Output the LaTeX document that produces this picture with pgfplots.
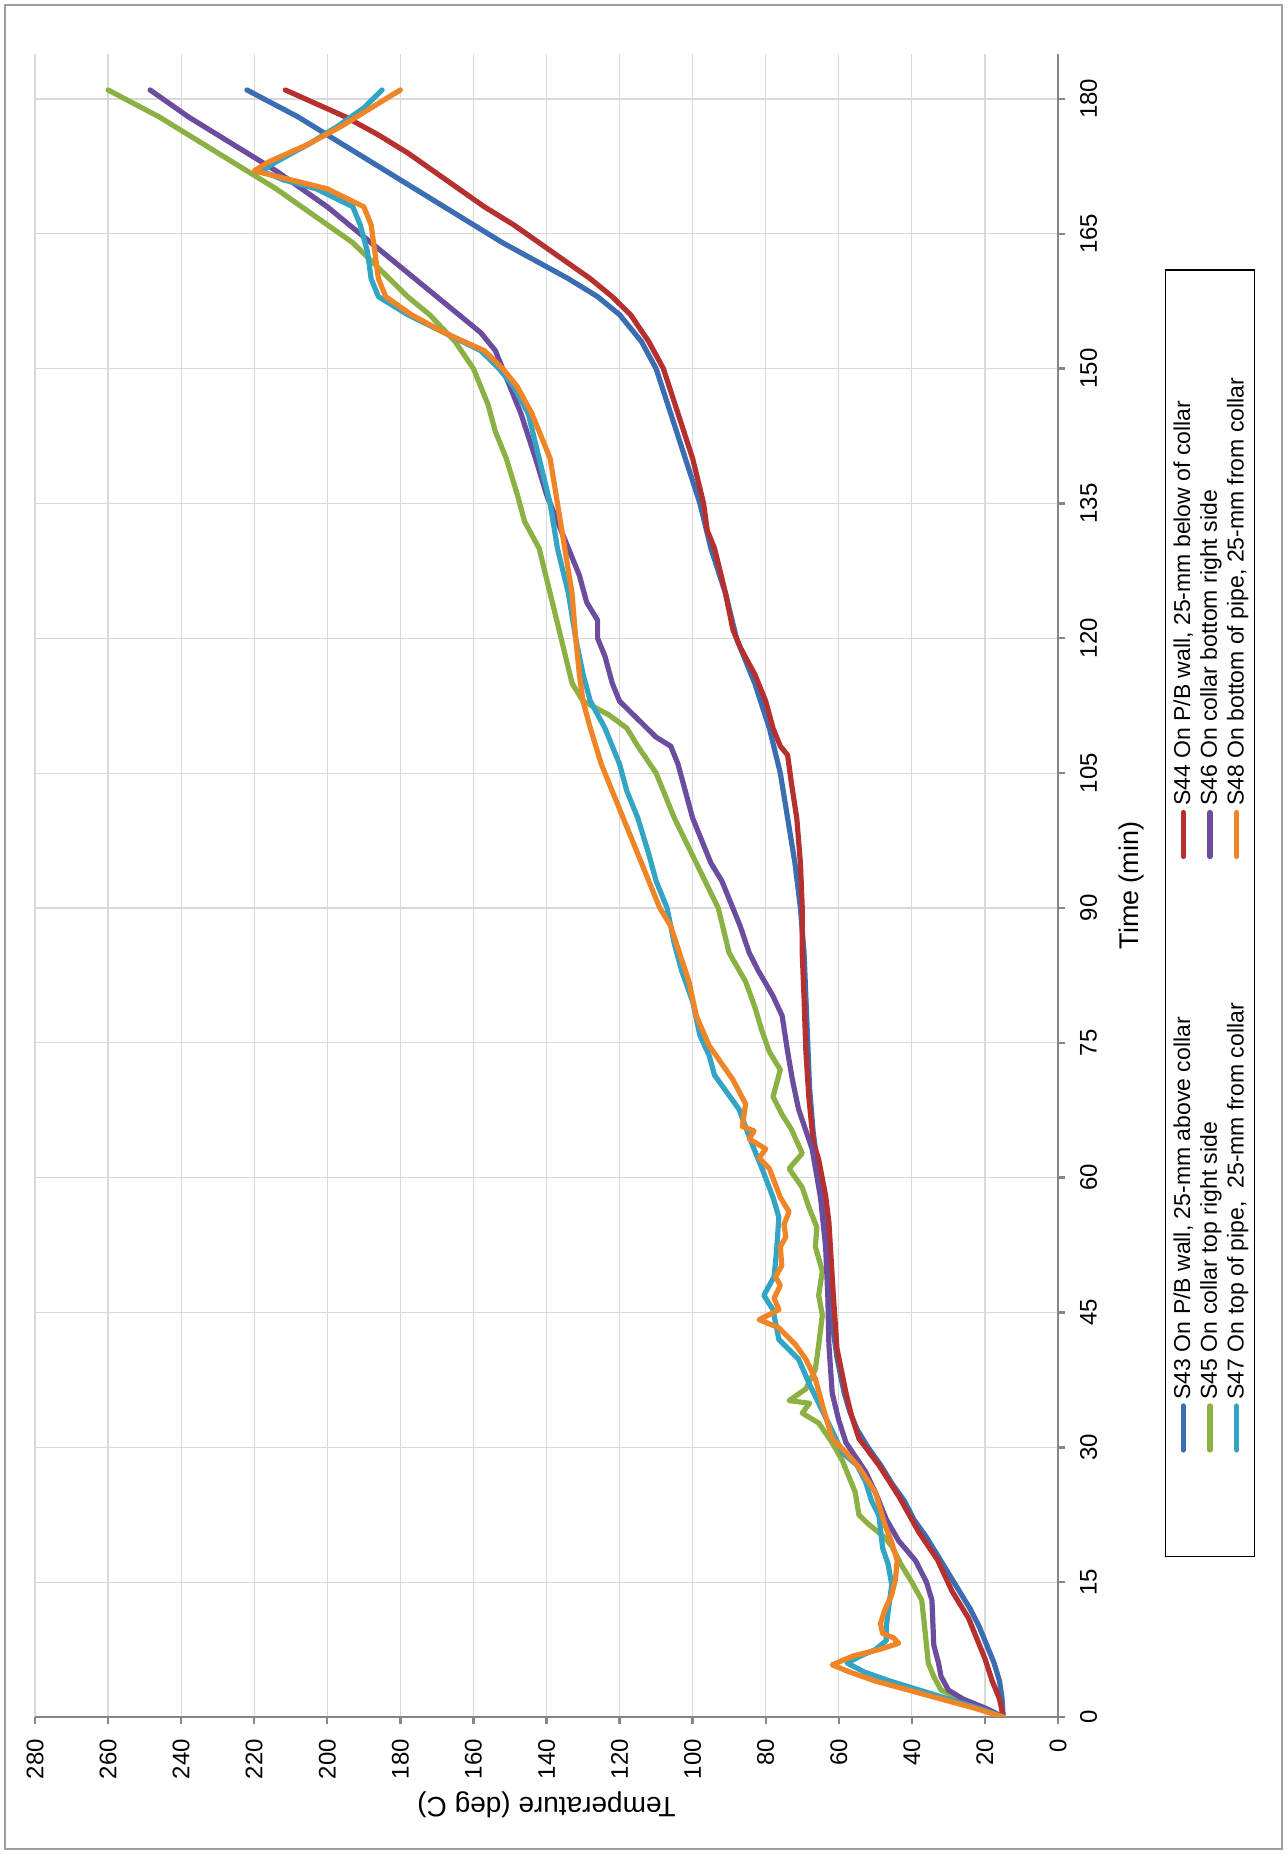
\documentclass[border=0pt]{standalone}
\usepackage{fontspec}
\setmainfont{Liberation Sans}
\usepackage{pgfplots}
\pgfplotsset{compat=1.18}

\definecolor{cS43}{RGB}{59,109,178}
\definecolor{cS44}{RGB}{181,48,46}
\definecolor{cS45}{RGB}{139,176,68}
\definecolor{cS46}{RGB}{108,76,158}
\definecolor{cS47}{RGB}{52,164,196}
\definecolor{cS48}{RGB}{240,133,40}
\definecolor{gridgray}{RGB}{217,217,217}
\definecolor{axisgray}{RGB}{134,134,134}

\begin{document}
% landscape chart, turned a quarter turn counter-clockwise on the page
\begin{tikzpicture}[rotate=90, transform shape]
\path (0,0) rectangle (927pt,643.5pt);
\draw[gray!75, line width=1.2pt] (2.5pt,2.5pt) rectangle (924.5pt,641pt);
\begin{axis}[
  at={(68.5pt,114.5pt)}, anchor=south west,
  scale only axis, width=831.5pt, height=511.5pt,
  xmin=0, xmax=185, ymin=0, ymax=280,
  xtick={0,15,...,180}, ytick={0,20,...,280},
  axis x line*=bottom, axis y line*=left,
  axis line style={axisgray, line width=1.2pt},
  tick style={axisgray, line width=1.2pt},
  tick align=outside, major tick length=3.5pt,
  grid=major, major grid style={gridgray, line width=0.6pt},
  /pgf/number format/assume math mode=true,
  ticklabel style={font=\fontsize{12}{14}\selectfont},
  xticklabel style={yshift=-4pt},
  yticklabel style={xshift=-4pt},
  xlabel={Time (min)},
  ylabel={Temperature (deg C)},
  every axis x label/.style={at={(axis description cs:0.5,-0.0723)}, anchor=center,
    font=\fontsize{13.5}{16}\selectfont},
  every axis y label/.style={at={(axis description cs:-0.0529,0.5)}, anchor=center,
    rotate=90, font=\fontsize{14}{16}\selectfont},
  every axis plot/.append style={line width=2.6pt, line join=round, line cap=round},
  legend columns=2,
  legend cell align=left,
  legend image code/.code={\draw[#1, line cap=round] (0pt,0pt) -- (22pt,0pt);},
  legend style={at={(axis description cs:0.4834,-0.1486)}, anchor=center,
    draw=black, line width=0.9pt, inner xsep=52pt, inner ysep=2pt,
    font=\fontsize{11.5}{13}\selectfont, row sep=-0.5pt,
    /tikz/every even column/.append style={column sep=70pt}},
]
% S43
\addplot[cS43] coordinates {
(0,15)(2,15.3)(4,16)(6,17.5)(8,19.5)(10,21.5)(12,24)(14,27)(16,30)(18,33)(20,36)
(22,39.5)(24,42)(26,45.5)(28,48.5)(30,52)(32,55)(34,57)(36,58.5)(38,59.5)(40,60.5)
(43,61.5)(46,62)(50,62.5)(55,63.5)(58,64)(62,66)(65,67)(70,68)(75,68.5)(80,69)
(85,69.5)(90,70.5)(95,72)(100,74)(105,76)(110,79)(115,83)(120,88)(125,91)(130,95)
(135,98)(140,102)(145,106)(150,110)(153,114)(156,120)(158,126)(160,134)(162,143)
(164,152)(166,160)(168,168)(170,176)(172,184)(174,192)(176,200)(178,208)(181,222)};
\addlegendentry{S43 On P/B wall, 25-mm above collar}
% S44
\addplot[cS44] coordinates {
(0,15)(2,16)(4,18)(6.5,20)(9,22.5)(11,24.5)(14,29)(17.5,33)(20.5,38)(24.5,43.5)
(28,49)(31,54.5)(33.5,56.5)(36,58)(41,60.5)(47,61.5)(55,62.7)(58,63.6)(62,65.5)
(64,67)(69,68.2)(74,69)(80,69.5)(85,70)(90,70)(95,70.5)(100,71.5)(104,73)(107,74)
(108,76)(110,78)(113,80)(116,83)(119,87)(121,89)(125,91)(130,94)(132,96)(135,97)
(140,100)(145,104)(150,108)(153,112)(156,117)(158,122)(160,128)(162,135)(164,142)
(166,149)(168,157)(170,164)(172,171)(174,178)(176,186)(178,195)(181,211.5)};
\addlegendentry{S44 On P/B wall, 25-mm below of collar}
% S45
\addplot[cS45] coordinates {
(0,15)(1,20)(2,27)(3,32)(4.5,34)(6,35.5)(8,36)(10,36.5)(13,37.3)(15,40)(17,43)
(19,45.5)(20,47.5)(21.5,52)(22.5,54.5)(25,55.5)(27,57.5)(28.5,59)(30.5,61.8)
(32.7,65.5)(33.8,70)(34.9,68)(35.2,73.6)(36.5,69)(38.7,66.4)(41.4,65.5)(44.7,64.5)
(46.9,65.5)(49.6,64.5)(52.3,66.4)(54.5,66)(56.5,68)(58.9,70)(61,73.6)(62.7,70)
(65.4,73)(67,75.5)(69,78)(72,76)(74,79)(76.3,81)(79,83)(81.8,85.5)(85,90)(90,93)
(95,99)(100,105)(105,110)(108,115)(110,118)(111.5,123)(113,130)(115,133)(120,136)
(125,139)(130,142)(133,146)(136,148)(140,151)(143,154)(146,156)(150,160)(153,165)
(156,172)(158,178)(160,183)(162,188)(164,193)(166,200)(168,207)(170,214)(172,222)
(174,230)(176,238)(178,246)(181,260)};
\addlegendentry{S45 On collar top right side}
% S46
\addplot[cS46] coordinates {
(0,15)(1,20)(2,26)(3,30)(4.5,32)(6,32.7)(8,34)(13,34.5)(15,36)(17.4,39)(19.6,43.6)
(22,47)(25,50)(27.3,52.7)(30.5,58)(33,60)(36,61.8)(41.4,62.7)(46.9,63)(52.3,63.6)
(57.8,65)(63.2,67.3)(67.6,71)(70.9,72.7)(74,74)(78,75.5)(80.2,78)(83,82)(85,84.5)
(88,87)(90,89)(93,92)(95,95)(98,98)(100,100)(103,102)(106,104)(108,106)(109,110)
(111,115)(113,120)(115,122)(118,124)(120,126)(122,126)(124,129)(127,131)(130,134)
(133,137)(136,140)(140,143)(145,147)(148,150)(150,152)(152,154)(154,158)(156,164)
(158,170)(160,176)(162,182)(164,188)(166,194)(168,200)(170,207)(172,214)(174,222)
(176,230)(178,238)(181,248.5)};
\addlegendentry{S46 On collar bottom right side}
% S47
\addplot[cS47] coordinates {
(0,15)(1,22)(2,30)(3,38)(4,46)(5,53)(6,57.7)(6.8,54)(7.5,50)(8.5,47)(10,47)
(12,46.4)(14.7,45.5)(17,46.5)(18.8,48)(20.5,48.5)(22.4,49)(24,51)(26.2,52.7)(28,55)
(29.4,59)(32,62)(34.9,65.5)(37,68)(39.8,71)(42,76.4)(45.3,78)(46.9,80.5)(49,77.7)
(52,77)(55.6,76.4)(57.8,78)(61,81)(64,84)(67.6,87.3)(71.4,94)(73.6,95.5)(75.8,98)
(79.6,100)(83,103)(86,105)(90,107)(93,110)(96,112)(100,115)(103,118)(106,120)
(110,124)(113,128)(116,130)(120,132)(125,134)(130,137)(135,139)(140,142)(145,145)
(148,149)(150,153)(152,158)(154,168)(156,178)(158,186)(160,188)(163,189)(166,191)
(168,193)(170,203)(171,212)(172,218)(173,214)(175,205)(177,197)(179,190)(181,185)};
\addlegendentry{S47 On top of pipe,\ \ 25-mm from collar}
% S48
\addplot[cS48] coordinates {
(0,15)(1,23)(2,32)(3,41)(4,50)(5,57)(5.8,61.8)(6.8,56)(7.5,49)(8.2,43.6)(8.8,45)
(9.3,48)(10.4,48.6)(12,47.3)(13.6,45.5)(15.3,44.5)(17.4,44)(19.4,45.5)(21.3,47.3)
(25,50)(27.8,54.5)(29.4,58)(31,61.8)(34,64)(37.6,66.4)(39.8,69)(41.4,71.8)
(43.3,76.4)(44.2,81.8)(45.3,76.4)(46.6,77.7)(48,76)(49,77.3)(50.2,75.6)(52.3,76)
(53.4,74.5)(54.8,75)(56.2,73.6)(57.8,76)(61,79)(62.2,81.8)(63.2,80)(64.3,84.5)
(65.2,83.2)(65.7,86.4)(68.2,85.5)(70.9,89)(74.7,95.5)(78,99)(81.8,101)(85,103.6)
(88,106)(90,109)(93,112)(96,115)(100,119)(103,122)(106,125)(110,128)(113,130)
(116,131)(120,132)(125,133)(130,135)(135,137)(140,139)(145,144)(148,148)(150,152)
(152,157)(154,168)(156,177)(158,184)(160,186)(163,187)(166,188)(168,190)(170,200)
(171,210)(172,220)(173,216)(175,205)(177,196)(179,188)(181,180)};
\addlegendentry{S48 On bottom of pipe, 25-mm from collar}
\end{axis}
\end{tikzpicture}
\end{document}
